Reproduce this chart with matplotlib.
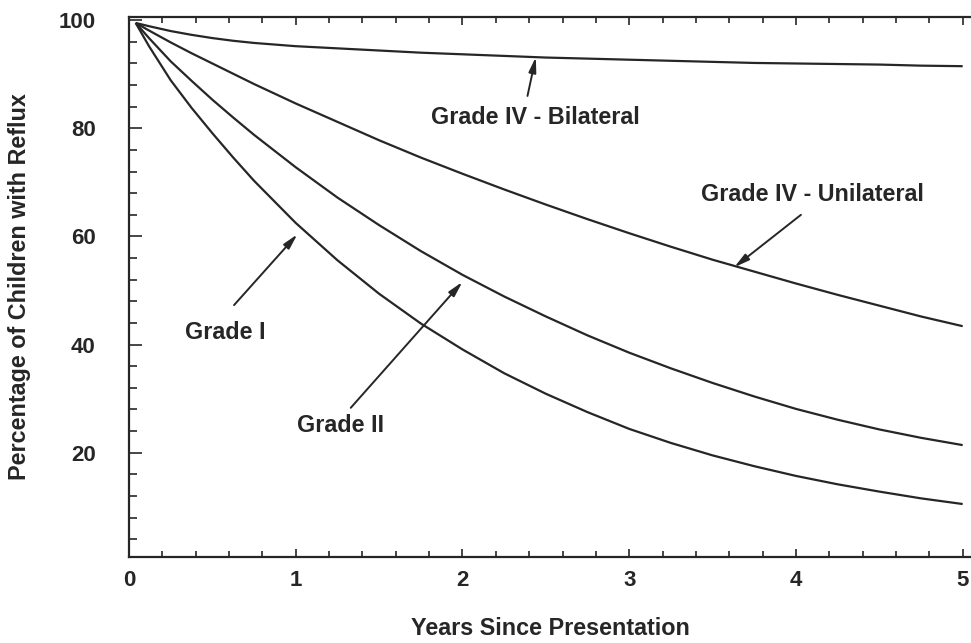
import matplotlib.pyplot as plt
import matplotlib.ticker as ticker

plt.rcParams["font.family"] = ["Liberation Sans", "DejaVu Sans"]
plt.rcParams["font.weight"] = "bold"

years = [0.04, 0.12, 0.25, 0.375, 0.5, 0.625, 0.75, 1, 1.25, 1.5, 1.75, 2, 2.25, 2.5,
         2.75, 3, 3.25, 3.5, 3.75, 4, 4.25, 4.5, 4.75, 5]

grade_iv_bilateral = [99.5, 98.9, 98.0, 97.3, 96.7, 96.2, 95.8, 95.2, 94.8, 94.4, 94.0,
                      93.7, 93.4, 93.1, 92.9, 92.7, 92.5, 92.3, 92.1, 92.0, 91.9, 91.8,
                      91.6, 91.5]
grade_iv_unilateral = [99.5, 98.1, 95.9, 93.9, 92.0, 90.1, 88.2, 84.6, 81.2, 77.8, 74.6,
                       71.6, 68.7, 65.9, 63.2, 60.6, 58.1, 55.7, 53.5, 51.3, 49.2, 47.2,
                       45.2, 43.4]
grade_ii = [99.5, 96.7, 92.4, 88.8, 85.3, 82.0, 78.8, 72.8, 67.2, 62.1, 57.3,
            52.9, 48.9, 45.2, 41.7, 38.5, 35.6, 32.9, 30.4, 28.1, 26.1, 24.3,
            22.75, 21.4]
grade_i = [99.5, 95.2, 88.9, 83.8, 79.1, 74.6, 70.3, 62.5, 55.6, 49.4, 43.9,
           39.1, 34.7, 30.9, 27.5, 24.4, 21.8, 19.5, 17.5, 15.7, 14.15, 12.8,
           11.55, 10.5]

x_ticks = [0, 1, 2, 3, 4, 5]
y_ticks = [20, 40, 60, 80, 100]

ink = "#262626"

fig = plt.figure(figsize=(9.71, 6.43), dpi=100)
ax = fig.add_axes([129 / 971, 1 - 557 / 643, 1 - 129 / 971, (557 - 17) / 643])

for series in (grade_iv_bilateral, grade_iv_unilateral, grade_ii, grade_i):
    ax.plot(years, series, color=ink, linewidth=1.6, solid_capstyle="butt",
            solid_joinstyle="round")

ax.set_xlim(0, 5.05)
ax.set_ylim(0.7, 100.6)

ax.xaxis.set_major_locator(ticker.FixedLocator(x_ticks))
ax.xaxis.set_minor_locator(ticker.MultipleLocator(0.2))
ax.yaxis.set_major_locator(ticker.FixedLocator(y_ticks))
ax.yaxis.set_minor_locator(ticker.MultipleLocator(4))

ax.spines["right"].set_visible(False)
for side in ("left", "bottom", "top"):
    ax.spines[side].set_linewidth(1.6)
    ax.spines[side].set_color(ink)

ax.tick_params(axis="x", which="both", direction="in", top=True, bottom=True,
               color=ink, width=1.2, labelsize=16, pad=9)
ax.tick_params(axis="x", which="major", length=6)
ax.tick_params(axis="x", which="minor", length=4)
ax.tick_params(axis="y", which="both", direction="in", left=True, right=False,
               color=ink, width=1.2, labelsize=16, pad=24)
ax.tick_params(axis="y", which="major", length=9)
ax.tick_params(axis="y", which="minor", length=6)
for lab in ax.get_xticklabels() + ax.get_yticklabels():
    lab.set_fontweight("bold")
    lab.set_color(ink)

ax.set_xlabel("Years Since Presentation", fontsize=16.8, fontweight="bold",
              color=ink, labelpad=19)
ax.set_ylabel("Percentage of Children with Reflux", fontsize=16.8, fontweight="bold",
              color=ink, labelpad=20)

arrow = dict(arrowstyle="-|>,head_length=0.9,head_width=0.22", color=ink,
             lw=1.4, shrinkA=0, shrinkB=0)
text_kw = dict(fontsize=16.8, fontweight="bold", color=ink, ha="center", va="center")

ax.annotate("", xy=(2.44, 93.2), xytext=(2.39, 86.0), arrowprops=arrow)
ax.text(2.44, 82.1, "Grade IV - Bilateral", **text_kw)

ax.annotate("", xy=(3.63, 54.3), xytext=(4.03, 64.0), arrowprops=arrow)
ax.text(4.10, 67.7, "Grade IV - Unilateral", **text_kw)

ax.annotate("", xy=(1.01, 60.4), xytext=(0.63, 47.3), arrowprops=arrow)
ax.text(0.58, 42.3, "Grade I", **text_kw)

ax.annotate("", xy=(2.0, 51.6), xytext=(1.33, 28.3), arrowprops=arrow)
ax.text(1.27, 25.1, "Grade II", **text_kw)

fig.savefig("out.png", dpi=100, facecolor="white")
